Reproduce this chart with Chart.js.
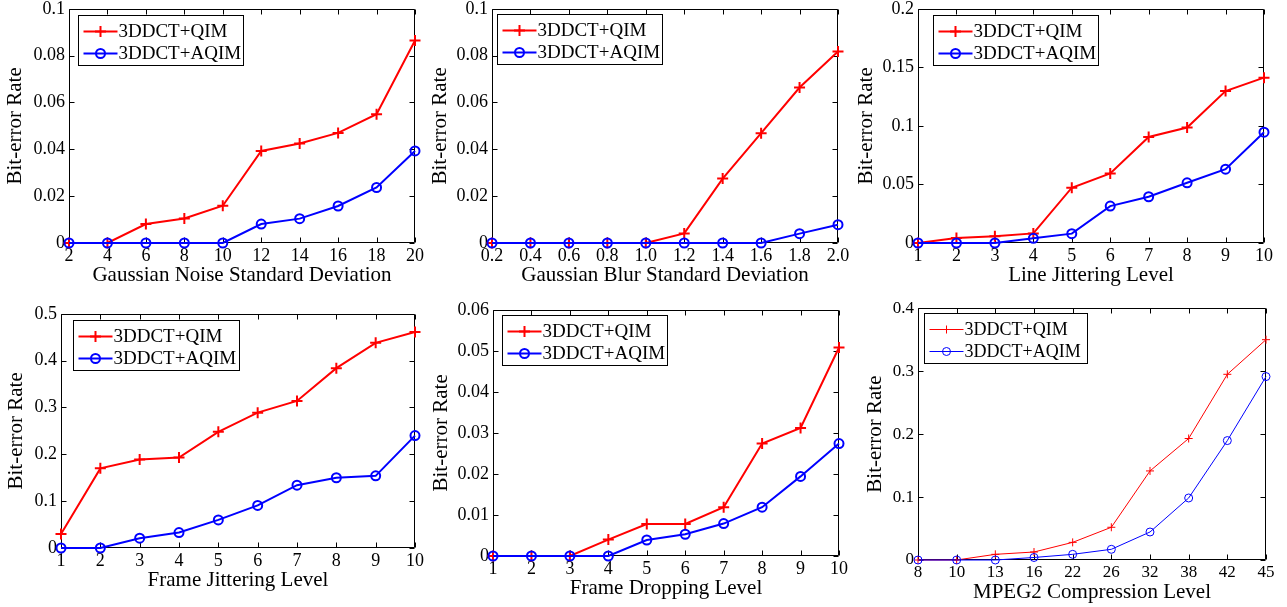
<!DOCTYPE html>
<html><head><meta charset="utf-8">
<script src="https://cdn.jsdelivr.net/npm/chart.js@4/dist/chart.umd.min.js"></script>
<style>
html,body{margin:0;padding:0;background:#fff;width:1287px;height:607px;overflow:hidden;position:relative;}
canvas{position:absolute;}
</style></head><body>
<script>
// ---------- data ----------
const seriesNames = ['3DDCT+QIM', '3DDCT+AQIM'];
const yAxisTitle = 'Bit-error Rate';

const noiseLevels = ['2','4','6','8','10','12','14','16','18','20'];
const noiseQIM  = [0, 0, 0.0081, 0.0105, 0.0159, 0.0393, 0.0425, 0.047, 0.055, 0.0865];
const noiseAQIM = [0, 0, 0, 0, 0, 0.0081, 0.0104, 0.0158, 0.0237, 0.0393];
const noiseYTicks = [0, 0.02, 0.04, 0.06, 0.08, 0.1];

const blurLevels = ['0.2','0.4','0.6','0.8','1.0','1.2','1.4','1.6','1.8','2.0'];
const blurQIM  = [0, 0, 0, 0, 0, 0.0041, 0.0275, 0.0469, 0.0664, 0.0818];
const blurAQIM = [0, 0, 0, 0, 0, 0, 0, 0, 0.004, 0.0078];
const blurYTicks = [0, 0.02, 0.04, 0.06, 0.08, 0.1];

const lineJitLevels = ['1','2','3','4','5','6','7','8','9','10'];
const lineJitQIM  = [0, 0.0043, 0.0057, 0.0082, 0.0472, 0.0594, 0.0906, 0.0986, 0.1298, 0.1412];
const lineJitAQIM = [0, 0, 0, 0.004, 0.008, 0.0315, 0.0395, 0.0514, 0.063, 0.0946];
const lineJitYTicks = [0, 0.05, 0.1, 0.15, 0.2];

const frameJitLevels = ['1','2','3','4','5','6','7','8','9','10'];
const frameJitQIM  = [0.0298, 0.170, 0.189, 0.193, 0.248, 0.289, 0.314, 0.384, 0.438, 0.461];
const frameJitAQIM = [0, 0, 0.021, 0.033, 0.060, 0.091, 0.134, 0.150, 0.154, 0.240];
const frameJitYTicks = [0, 0.1, 0.2, 0.3, 0.4, 0.5];

const dropLevels = ['1','2','3','4','5','6','7','8','9','10'];
const dropQIM  = [0, 0, 0, 0.004, 0.0078, 0.0078, 0.0119, 0.0274, 0.0312, 0.0508];
const dropAQIM = [0, 0, 0, 0, 0.0039, 0.0053, 0.0079, 0.0119, 0.0194, 0.0274];
const dropYTicks = [0, 0.01, 0.02, 0.03, 0.04, 0.05, 0.06];

const mpegLevels = ['8','10','13','16','22','26','32','38','42','45'];
const mpegQIM  = [0, 0, 0.009, 0.0127, 0.028, 0.052, 0.1415, 0.193, 0.295, 0.350];
const mpegAQIM = [0, 0, 0, 0.004, 0.009, 0.017, 0.0445, 0.0985, 0.1897, 0.2914];
const mpegYTicks = [0, 0.1, 0.2, 0.3, 0.4];

// ---------- rendering ----------
const RED = '#ff0000', BLUE = '#0000ff';
const FONT = "'Liberation Serif', 'Times New Roman', serif";

const framePlugin = {
  id: 'frame',
  beforeDatasetsDraw(chart) {
    const {ctx, chartArea: a, scales: {x, y}} = chart;
    const L = Math.round(a.left) + 0.5, R = Math.round(a.right) - 0.5;
    const T = Math.round(a.top) + 0.5, B = Math.round(a.bottom) - 0.5;
    ctx.save();
    ctx.strokeStyle = '#000';
    ctx.lineWidth = 1;
    ctx.beginPath();
    ctx.rect(L, T, R - L, B - T);
    const tl = 5;
    x.ticks.forEach((t, i) => {
      const px = Math.round(x.getPixelForValue(i)) + 0.5;
      ctx.moveTo(px, B); ctx.lineTo(px, B - tl);
      ctx.moveTo(px, T); ctx.lineTo(px, T + tl);
    });
    y.ticks.forEach(t => {
      const py = Math.round(y.getPixelForValue(t.value)) + 0.5;
      ctx.moveTo(L, py); ctx.lineTo(L + tl, py);
      ctx.moveTo(R, py); ctx.lineTo(R - tl, py);
    });
    ctx.stroke();
    ctx.restore();
  }
};

function drawMarker(ctx, style, cx, cy, r, color, lw) {
  ctx.save();
  ctx.strokeStyle = color; ctx.lineWidth = lw;
  ctx.beginPath();
  if (style === 'cross') {
    ctx.moveTo(cx - r, cy); ctx.lineTo(cx + r, cy);
    ctx.moveTo(cx, cy - r); ctx.lineTo(cx, cy + r);
  } else {
    ctx.arc(cx, cy, r, 0, Math.PI * 2);
  }
  ctx.stroke();
  ctx.restore();
}

const legendPlugin = {
  id: 'boxLegend',
  afterDatasetsDraw(chart, args, opts) {
    const {ctx, chartArea: a} = chart;
    const bx = Math.round(a.left + opts.dx) + 0.5, by = Math.round(a.top + opts.dy) + 0.5;
    ctx.save();
    ctx.fillStyle = '#fff';
    ctx.fillRect(bx, by, opts.w, opts.h);
    ctx.strokeStyle = '#000'; ctx.lineWidth = 1;
    ctx.strokeRect(bx, by, opts.w, opts.h);
    chart.data.datasets.forEach((ds, i) => {
      const cy = by + 16 + i * 22;
      ctx.strokeStyle = ds.borderColor; ctx.lineWidth = ds.borderWidth;
      ctx.beginPath(); ctx.moveTo(bx + 5, cy); ctx.lineTo(bx + 39, cy); ctx.stroke();
      drawMarker(ctx, ds.pointStyle, bx + 22, cy, ds.pointRadius, ds.borderColor, ds.pointBorderWidth);
      ctx.fillStyle = '#000';
      ctx.font = opts.fontSize + 'px ' + FONT;
      ctx.textBaseline = 'middle'; ctx.textAlign = 'left';
      ctx.fillText(ds.label, bx + 40, cy + 1);
    });
    ctx.restore();
  }
};

function makeChart(spec) {
  const {plot, yW, leg, thin} = spec;
  const padTop = 14, padR = 22, xH = 45;
  const plotW = plot.r - plot.l, plotH = plot.b - plot.t;
  const W = plotW + yW + padR, H = plotH + padTop + xH;
  const cv = document.createElement('canvas');
  cv.width = W; cv.height = H;
  cv.style.left = (plot.l - yW) + 'px';
  cv.style.top = (plot.t - padTop) + 'px';
  cv.style.width = W + 'px'; cv.style.height = H + 'px';
  document.body.appendChild(cv);
  const lw = thin ? 1 : 2;
  const crossR = thin ? 4 : 5.5;
  const circR = thin ? 4 : 4.5;
  const tickSize = thin ? 17 : 18;
  const titleSize = 21;
  new Chart(cv, {
    type: 'line',
    data: {
      labels: spec.labels,
      datasets: [
        {label: seriesNames[0], data: spec.qim, borderColor: RED, backgroundColor: RED, borderWidth: lw,
         pointStyle: 'cross', pointRadius: crossR, pointHoverRadius: crossR, pointBorderColor: RED,
         pointBorderWidth: lw, pointBackgroundColor: RED, tension: 0, clip: false, order: 1},
        {label: seriesNames[1], data: spec.aqim, borderColor: BLUE, backgroundColor: BLUE, borderWidth: lw,
         pointStyle: 'circle', pointRadius: circR, pointHoverRadius: circR, pointBorderColor: BLUE,
         pointBorderWidth: lw, pointBackgroundColor: 'rgba(0,0,0,0)', tension: 0, clip: false, order: 0}
      ]
    },
    options: {
      responsive: false, animation: false, devicePixelRatio: 1, events: [],
      layout: {padding: {top: padTop, right: padR, left: 0, bottom: 0}},
      plugins: {
        legend: {display: false}, tooltip: {enabled: false},
        boxLegend: {dx: leg.dx, dy: leg.dy, w: leg.w, h: 50, fontSize: thin ? 18 : 19}
      },
      scales: {
        x: {
          type: 'category', offset: false,
          grid: {display: false, drawTicks: false}, border: {display: false},
          ticks: {autoSkip: false, maxRotation: 0, minRotation: 0, padding: 2, color: '#000',
                  font: {family: FONT, size: tickSize}},
          title: {display: true, text: spec.xTitle, color: '#000', font: {family: FONT, size: titleSize},
                  padding: 0},
          afterFit: s => { s.height = xH; }
        },
        y: {
          type: 'linear', min: spec.yTicks[0], max: spec.yTicks[spec.yTicks.length - 1],
          grid: {display: false, drawTicks: false}, border: {display: false},
          afterBuildTicks: s => { s.ticks = spec.yTicks.map(v => ({value: v})); },
          ticks: {padding: 4, color: '#000', font: {family: FONT, size: tickSize},
                  callback: v => String(v)},
          title: {display: true, text: yAxisTitle, color: '#000', font: {family: FONT, size: titleSize},
                  padding: 0},
          afterFit: s => { s.width = yW; }
        }
      }
    },
    plugins: [framePlugin, legendPlugin]
  });
}

makeChart({labels: noiseLevels, qim: noiseQIM, aqim: noiseAQIM, yTicks: noiseYTicks,
  xTitle: 'Gaussian Noise Standard Deviation', plot: {l: 69, r: 415, t: 8, b: 243}, yW: 66,
  leg: {dx: 9, dy: 6, w: 165}});
makeChart({labels: blurLevels, qim: blurQIM, aqim: blurAQIM, yTicks: blurYTicks,
  xTitle: 'Gaussian Blur Standard Deviation', plot: {l: 492, r: 838, t: 8, b: 243}, yW: 64,
  leg: {dx: 5, dy: 5, w: 165}});
makeChart({labels: lineJitLevels, qim: lineJitQIM, aqim: lineJitAQIM, yTicks: lineJitYTicks,
  xTitle: 'Line Jittering Level', plot: {l: 918, r: 1264, t: 8, b: 243}, yW: 64,
  leg: {dx: 15, dy: 6, w: 165}});
makeChart({labels: frameJitLevels, qim: frameJitQIM, aqim: frameJitAQIM, yTicks: frameJitYTicks,
  xTitle: 'Frame Jittering Level', plot: {l: 61, r: 415, t: 313, b: 548}, yW: 57,
  leg: {dx: 12, dy: 6, w: 166}});
makeChart({labels: dropLevels, qim: dropQIM, aqim: dropAQIM, yTicks: dropYTicks,
  xTitle: 'Frame Dropping Level', plot: {l: 493, r: 839, t: 309, b: 556}, yW: 64,
  leg: {dx: 9, dy: 5, w: 165}});
makeChart({labels: mpegLevels, qim: mpegQIM, aqim: mpegAQIM, yTicks: mpegYTicks,
  xTitle: 'MPEG2 Compression Level', plot: {l: 918, r: 1266, t: 308, b: 560}, yW: 55,
  leg: {dx: 6, dy: 5, w: 163}, thin: true});
</script>
</body></html>
